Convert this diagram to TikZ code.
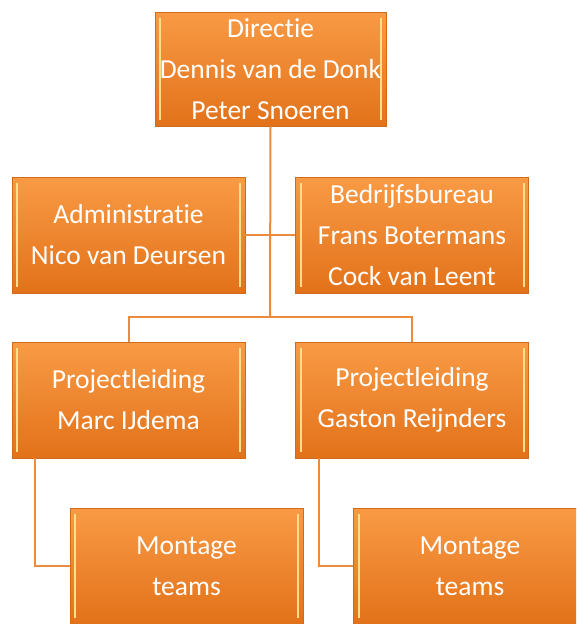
\documentclass[tikz,border=0pt]{standalone}
\usepackage{fontspec}
\setmainfont[Ligatures=NoCommon]{Carlito}
\definecolor{boxtop}{HTML}{F99A45}
\definecolor{boxbot}{HTML}{E2721A}
\definecolor{boxrim}{HTML}{D06A1E}
\definecolor{bevelhi}{HTML}{FBE08A}
\definecolor{linkcol}{HTML}{EC8B3E}
\tikzset{
  unit/.style={draw=boxrim, line width=0.8pt, top color=boxtop, bottom color=boxbot,
    text=white, align=center, inner sep=0pt,
    font=\fontsize{27.5}{41}\selectfont,
    path picture={
      \draw[bevelhi, line width=2pt]
        ([xshift=5pt,yshift=-6pt]path picture bounding box.north west) --
        ([xshift=5pt,yshift=6pt]path picture bounding box.south west);
      \draw[bevelhi, line width=2pt]
        ([xshift=-5pt,yshift=-6pt]path picture bounding box.north east) --
        ([xshift=-5pt,yshift=6pt]path picture bounding box.south east);
    }},
  wide/.style={unit, minimum width=233pt, minimum height=116pt},
  link/.style={draw=linkcol, line width=2pt}
}
\begin{document}
\begin{tikzpicture}[x=1pt, y=-1pt]
  \useasboundingbox (0,0) rectangle (576,624);
  \clip (0,0) rectangle (576,624);

  % top
  \node[unit, minimum width=231pt, minimum height=114pt] (dir) at (270.5,69)
    {Directie\\Dennis van de Donk\\Peter Snoeren};

  % staff
  \node[wide] (admin) at (128.5,235) {Administratie\\Nico van Deursen};
  \node[wide] (bureau) at (412,235) {Bedrijfsbureau\\Frans Botermans\\Cock van Leent};

  % projects
  \node[wide] (projL) at (128.5,400) {Projectleiding\\Marc IJdema};
  \node[wide] (projR) at (412,400) {Projectleiding\\Gaston Reijnders};

  % teams
  \node[wide] (montL) at (186.5,566) {Montage\\teams};
  \node[wide] (montR) at (470,566) {Montage\\teams};

  \coordinate (hub) at (270,317);
  \coordinate (dropL) at (35,458);
  \coordinate (dropR) at (319,458);

  \draw[link] (dir.south) -- (hub);
  \draw[link] (admin.east) -- (bureau.west);
  \draw[link] (hub) -| (projL.north);
  \draw[link] (hub) -| (projR.north);
  \draw[link] (dropL) |- (montL.west);
  \draw[link] (dropR) |- (montR.west);

\end{tikzpicture}
\end{document}
